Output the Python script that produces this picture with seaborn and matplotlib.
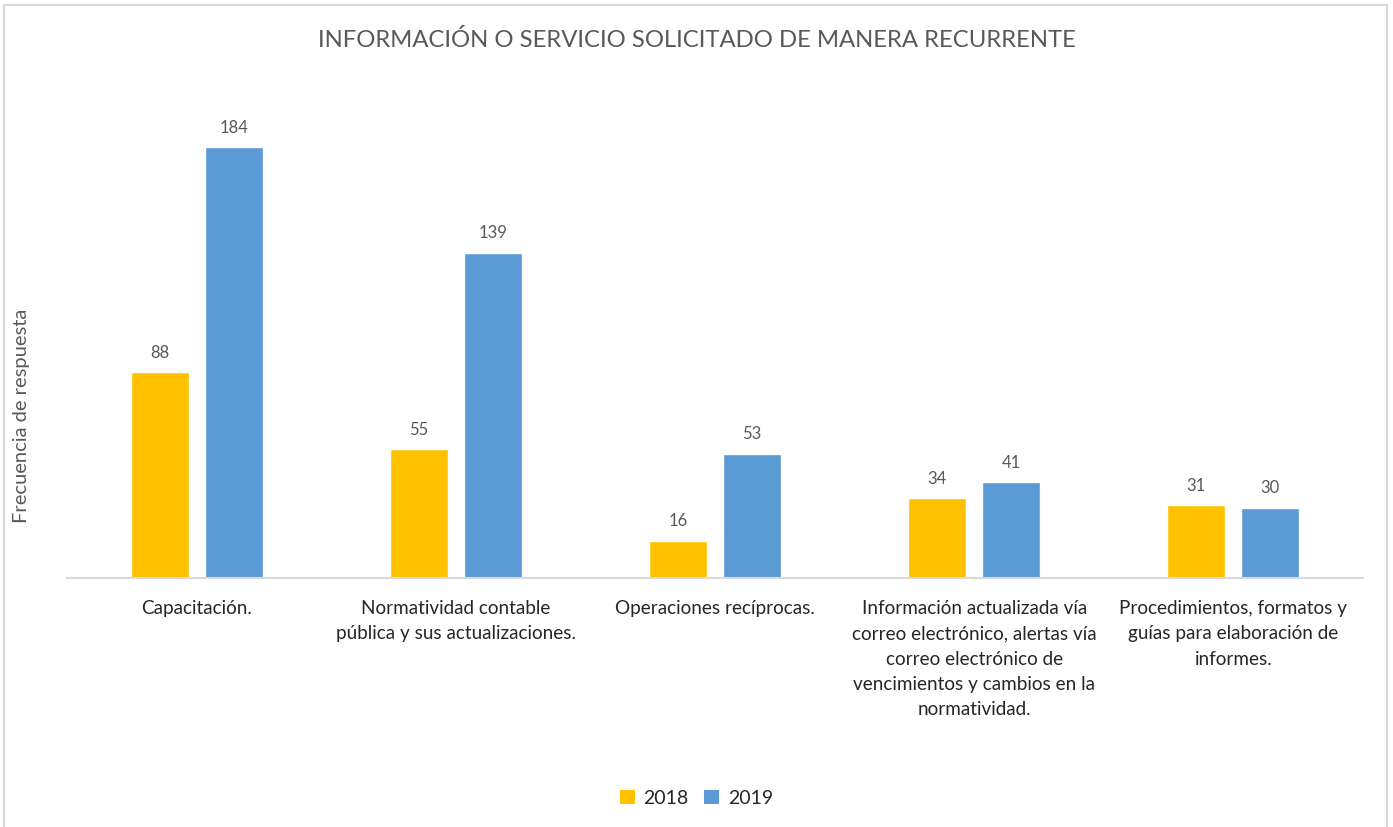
import matplotlib
matplotlib.use("Agg")
import matplotlib.pyplot as plt
from matplotlib.patches import Rectangle, Patch
import seaborn as sns
import pandas as pd

categories = [
    "Capacitación.",
    "Normatividad contable\npública y sus actualizaciones.",
    "Operaciones recíprocas.",
    "Información actualizada vía\ncorreo electrónico, alertas vía\ncorreo electrónico de\nvencimientos y cambios en la\nnormatividad.",
    "Procedimientos, formatos y\nguías para elaboración de\ninformes.",
]
years = ["2018", "2019"]
values_2018 = [88, 55, 16, 34, 31]
values_2019 = [184, 139, 53, 41, 30]
colors = ["#FFC000", "#5B9BD5"]

df = pd.DataFrame({
    "categoria": categories * 2,
    "anio": [years[0]] * len(categories) + [years[1]] * len(categories),
    "valor": values_2018 + values_2019,
})

sns.set_theme(style="white")
plt.rcParams["font.family"] = ["Lato", "DejaVu Sans"]

W, H = 1393, 828
fig = plt.figure(figsize=(W / 100, H / 100), dpi=100)
ax = fig.add_axes([67 / W, 1 - 579 / H, (1363 - 67) / W, (579 - 111) / H])

sns.barplot(
    data=df, x="categoria", y="valor", hue="anio", order=categories,
    hue_order=years, palette=colors, width=0.571, gap=0.216,
    saturation=1, legend=False, ax=ax, errorbar=None,
)

ax.set_xlim(-0.5, len(categories) - 0.5)
ax.set_ylim(0, 200)
ax.set_yticks([])
ax.set_xlabel("")
ax.set_ylabel("")
for side in ["top", "right", "left"]:
    ax.spines[side].set_visible(False)
ax.spines["bottom"].set_color("#D9D9D9")
ax.spines["bottom"].set_linewidth(1.5)
ax.tick_params(axis="x", length=0, pad=15, labelsize=13.6, labelcolor="#262626")
for lbl in ax.get_xticklabels():
    lbl.set_linespacing(1.6)
    lbl.set_verticalalignment("top")

for cont in ax.containers:
    ax.bar_label(cont, fmt="%d", padding=9, fontsize=12, color="#595959")

fig.text(697 / W, 1 - 40 / H, "INFORMACIÓN O SERVICIO SOLICITADO DE MANERA RECURRENTE",
         ha="center", va="center", fontsize=17.2, color="#595959")
fig.text(22 / W, 1 - 416 / H, "Frecuencia de respuesta", rotation=90,
         ha="center", va="center", fontsize=14.5, color="#595959")

handles = [Patch(facecolor=c, edgecolor="none") for c in colors]
fig.legend(handles, years, loc="center", bbox_to_anchor=(0.5, 1 - 799 / H),
           ncol=2, frameon=False, fontsize=14, handlelength=0.75, handleheight=0.75,
           handletextpad=0.45, columnspacing=0.8, labelcolor="#262626")

fig.patches.append(Rectangle((4 / W, -0.05), (1387 - 4) / W, 1.05 - 6 / H,
                             transform=fig.transFigure, fill=False,
                             edgecolor="#D9D9D9", linewidth=1.5))

fig.savefig("out.png", dpi=100, facecolor="white")
